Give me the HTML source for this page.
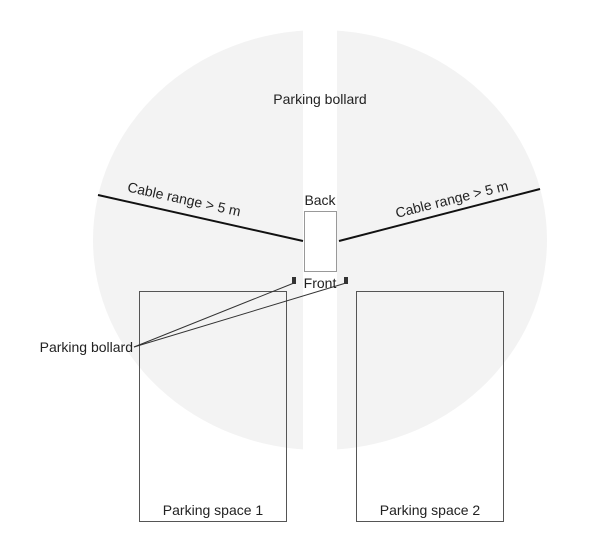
<!DOCTYPE html>
<html><head><meta charset="utf-8"><style>
html,body{margin:0;padding:0;background:#fff;}
svg{display:block;}
text{font-family:"Liberation Sans",Arial,sans-serif;font-size:14px;fill:#222;}
</style></head><body>
<svg width="605" height="533" viewBox="0 0 605 533" xmlns="http://www.w3.org/2000/svg">
<ellipse cx="320" cy="240" rx="227" ry="210" fill="#f3f3f3"/>
<rect x="303" y="20" width="34" height="440" fill="#fff"/>
<rect x="304.5" y="211.5" width="32" height="60" fill="#fff" stroke="#999" stroke-width="1"/>
<line x1="98" y1="195" x2="303" y2="241" stroke="#111" stroke-width="2"/>
<line x1="339" y1="241" x2="540" y2="189" stroke="#111" stroke-width="2"/>
<rect x="139.5" y="291.5" width="147" height="230" fill="none" stroke="#555" stroke-width="1"/>
<rect x="356.5" y="291.5" width="147" height="230" fill="none" stroke="#555" stroke-width="1"/>
<rect x="292" y="277" width="4" height="7" fill="#333"/>
<rect x="344" y="277" width="4" height="7" fill="#333"/>
<line x1="134" y1="347" x2="294" y2="283" stroke="#333" stroke-width="1"/>
<line x1="134" y1="347" x2="346" y2="283" stroke="#333" stroke-width="1"/>
<text x="320" y="104" text-anchor="middle">Parking bollard</text>
<text x="320" y="205" text-anchor="middle">Back</text>
<text x="320" y="288" text-anchor="middle">Front</text>
<text x="133" y="352" text-anchor="end">Parking bollard</text>
<text x="213" y="515" text-anchor="middle">Parking space 1</text>
<text x="430" y="515" text-anchor="middle">Parking space 2</text>
<text x="184" y="204" text-anchor="middle" transform="rotate(12.5 184 200)">Cable range &gt; 5 m</text>
<text x="452" y="204" text-anchor="middle" transform="rotate(-14 452 200)">Cable range &gt; 5 m</text>
</svg>
</body></html>
